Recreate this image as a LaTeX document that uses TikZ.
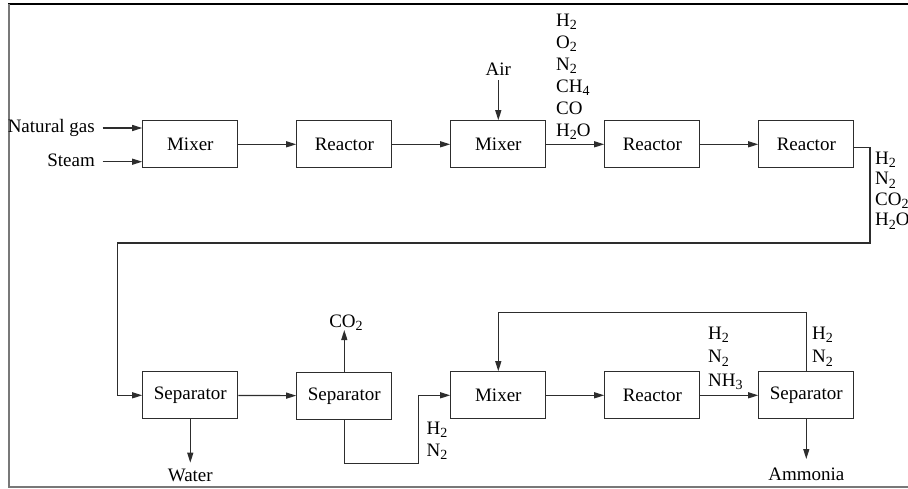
\documentclass[tikz,border=0pt]{standalone}
\usepackage{fontspec}
\setmainfont{Liberation Serif}
\usetikzlibrary{arrows.meta}
\definecolor{linec}{RGB}{45,45,45}
\definecolor{framegray}{RGB}{120,120,120}
\newcommand{\sub}[1]{\raisebox{-3.5pt}{\fontsize{14}{14}\selectfont #1}}
\begin{document}
\begin{tikzpicture}[x=1pt,y=-1pt,
  box/.style={draw=linec, line width=1.2pt, minimum width=95pt, minimum height=47pt, inner sep=0pt, font=\fontsize{19}{22}\selectfont},
  arr/.style={draw=linec, line width=1.2pt, -{Triangle[length=10pt,width=6pt]}},
  txt/.style={inner sep=0pt, font=\fontsize{19}{22}\selectfont},
  lbl/.style={inner sep=0pt, align=left, anchor=north west}]
\useasboundingbox (0,0) rectangle (908,488);
% frame
\draw[black, line width=2pt] (8,4) -- (908,4);
\draw[framegray, line width=2pt] (8.5,4) -- (8.5,487) -- (908,487);
% row 1
\node[box] (m1) at (190.3,144.3) {Mixer};
\node[box] (r1) at (344.3,144.3) {Reactor};
\node[box] (m2) at (498.3,144.3) {Mixer};
\node[box] (r2) at (652.3,144.3) {Reactor};
\node[box] (r3) at (806.3,144.3) {Reactor};
% row 2
\node[box] (s1) at (190.3,395.3) {Separator};
\node[box] (s2) at (344.3,395.8) {Separator};
\node[box] (m3) at (498.3,395.3) {Mixer};
\node[box] (r4) at (652.3,395.3) {Reactor};
\node[box] (s3) at (806.3,395.3) {Separator};
% inputs
\node[txt, anchor=base east] (ng) at (95,132) {Natural gas};
\node[txt, anchor=base east] (st) at (95,166) {Steam};
\draw[arr, shorten <=7.5pt] ([yshift=16.3pt]m1.west -| ng.east) -- ([yshift=16.3pt]m1.west);
\draw[arr, shorten <=7.5pt] ([yshift=-17.4pt]m1.west -| st.east) -- ([yshift=-17.4pt]m1.west);
\node[txt, anchor=base] (air) at (498.3,75) {Air};
\draw[arr, shorten <=5pt] (air.base) -- (m2.north);
% row 1 links
\draw[arr] (m1) -- (r1);
\draw[arr] (r1) -- (m2);
\draw[arr] (m2) -- (r2);
\draw[arr] (r2) -- (r3);
\node[lbl, font=\fontsize{19}{22}\selectfont] (mix) at (556,13.5)
  {H\sub{2}\\O\sub{2}\\N\sub{2}\\CH\sub{4}\\CO\\H\sub{2}O};
% long return
\coordinate (c1) at (870,243);
\coordinate (c2) at (117.3,243);
\draw[arr] ([yshift=-3.5pt]r3.east) -| (c1) -- (c2) |- (s1.west);
\node[lbl, font=\fontsize{19}{20.5}\selectfont] (gas2) at (875,151.5)
  {H\sub{2}\\N\sub{2}\\CO\sub{2}\\H\sub{2}O};
% row 2 links
\draw[arr] (s1) -- (s2);
\node[txt, anchor=base] (water) at (190.3,481) {Water};
\draw[arr] (s1.south) -- ([yshift=18.3pt]water.base);
\node[txt, anchor=base] (co2) at (346,327) {CO\sub{2}};
\draw[arr] (s2.north) -- ([yshift=-3pt]s2.north |- co2.base);
\coordinate (c3) at (418.3,463.3);
\draw[arr] (s2.south) |- (c3) |- (m3.west);
\node[lbl, font=\fontsize{19}{22}\selectfont] (hn) at (426.5,421.7)
  {H\sub{2}\\N\sub{2}};
\draw[arr] (m3) -- (r4);
\draw[arr] (r4) -- (s3);
\node[lbl, font=\fontsize{19}{23.5}\selectfont] (out4) at (708,326.7)
  {H\sub{2}\\N\sub{2}\\NH\sub{3}};
\coordinate (c4) at (806.3,312.3);
\draw[arr] (s3.north) -- (c4) -| (m3.north);
\node[lbl, font=\fontsize{19}{23.5}\selectfont] (rec) at (812,326.7)
  {H\sub{2}\\N\sub{2}};
\node[txt, anchor=base] (amm) at (806.3,480) {Ammonia};
\draw[arr] (s3.south) -- ([yshift=21pt]amm.base);
\end{tikzpicture}
\end{document}
